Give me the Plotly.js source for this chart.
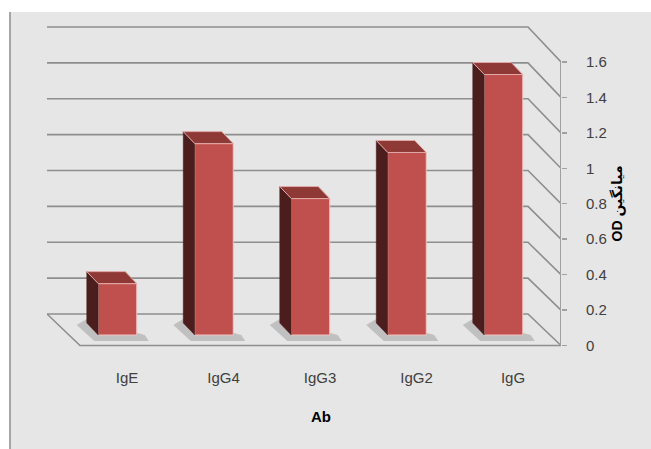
<!DOCTYPE html>
<html>
<head>
<meta charset="utf-8">
<script src="https://cdn.plot.ly/plotly-3.0.1.min.js"></script>
<style>html,body{margin:0;padding:0;background:#fff;}#chart{width:651px;height:449px;}</style>
</head>
<body>
<div id="chart"></div>
<script>
// ---- data ----
const categories = ['IgE', 'IgG4', 'IgG3', 'IgG2', 'IgG'];
const values = [0.29, 1.08, 0.77, 1.03, 1.47];
const yTickVals = [0, 0.2, 0.4, 0.6, 0.8, 1, 1.2, 1.4, 1.6];
const yTickText = ['0', '0.2', '0.4', '0.6', '0.8', '1', '1.2', '1.4', '1.6'];
const xTitle = 'Ab';
const yTitle = 'OD میانگین';

// ---- geometry (pixel -> data helpers) ----
const W = 651, H = 449;
const L = 47, R = 561, T = 24, B = 350;
const X0 = 127, XS = 96.5;      // category index 0 at px 127, 96.5 px per category
const Y0 = 345.5, YS = 177.2;   // value 0 at px 345.5, 177.2 px per unit
const px2x = p => (p - X0) / XS;
const py2y = p => (Y0 - p) / YS;
const xRange = [px2x(L), px2x(R)];
const yRange = [py2y(B), py2y(T)];
const backLeft = px2x(47), backRight = px2x(528), frontLeft = px2x(80), frontRight = px2x(R);
const backBase = py2y(314), backScale = 179.4 / YS;
const backY = v => backBase + v * backScale;

const barOffset = -9.5 / XS, barWidth = 38.5 / XS;
const barBase = py2y(335);
const dX = -11.5 / XS, dY = 12 / YS;

const gridColor = '#8e8e8e';
const shapes = [];
// background panel
shapes.push({type: 'rect', xref: 'paper', yref: 'paper', layer: 'below',
  x0: (10 - L) / (R - L), x1: (W + 5 - L) / (R - L), y0: (B - H - 5) / (B - T), y1: (B - 12) / (B - T),
  fillcolor: '#e6e6e6', line: {width: 0}});
shapes.push({type: 'line', xref: 'paper', yref: 'paper', layer: 'below',
  x0: (10 - L) / (R - L), x1: (10 - L) / (R - L), y0: (B - H - 5) / (B - T), y1: (B - 12) / (B - T),
  line: {color: '#a6a6a6', width: 2}});
// back wall gridlines + side diagonals
yTickVals.forEach(v => {
  shapes.push({type: 'path', xref: 'x', yref: 'y', layer: 'below',
    path: `M ${backLeft},${backY(v)} L ${backRight},${backY(v)} L ${frontRight},${v}`,
    line: {color: gridColor, width: 1.6}});
});
// floor
shapes.push({type: 'path', xref: 'x', yref: 'y', layer: 'below',
  path: `M ${backLeft},${backY(0)} L ${frontLeft},0 L ${frontRight},0`,
  line: {color: gridColor, width: 1.6}});
// axis line
shapes.push({type: 'line', xref: 'x', yref: 'y', layer: 'below',
  x0: frontRight, x1: frontRight, y0: 0, y1: yTickVals[yTickVals.length - 1],
  line: {color: '#a0a0a0', width: 2}});
// bar shadows
values.forEach((v, i) => {
  const xl = i + barOffset - barWidth / 2, xr = i + barOffset + barWidth / 2;
  shapes.push({type: 'path', xref: 'x', yref: 'y', layer: 'below',
    path: `M ${xl + dX - 10 / XS},${barBase + dY - 2 / YS} L ${xl + dX},${barBase + dY + 4 / YS} L ${xr + 8 / XS},${barBase} L ${xr + 12 / XS},${barBase - 6 / YS} L ${xl - 4 / XS},${barBase - 6 / YS} Z`,
    fillcolor: 'rgba(120,120,120,0.35)', line: {width: 0}});
});

const traces = [];
traces.push({
  type: 'bar', x: categories.map((c, i) => i + barOffset), y: values,
  base: values.map(() => barBase), width: barWidth,
  marker: {color: '#c0504d', line: {color: '#f0c2c0', width: 1}},
  hoverinfo: 'skip', showlegend: false
});
values.forEach((v, i) => {
  const xl = i + barOffset - barWidth / 2, xr = i + barOffset + barWidth / 2;
  const top = barBase + v;
  traces.push({type: 'scatter', mode: 'lines', fill: 'toself', fillcolor: '#4b1d1c',
    x: [xl, xl, xl + dX, xl + dX, xl], y: [barBase, top, top + dY, barBase + dY, barBase],
    line: {color: '#4b1d1c', width: 0.5}, hoverinfo: 'skip', showlegend: false});
  traces.push({type: 'scatter', mode: 'lines', fill: 'toself', fillcolor: '#8f3936',
    x: [xl, xr, xr + dX, xl + dX, xl], y: [top, top, top + dY, top + dY, top],
    line: {color: '#e0a9a7', width: 1}, hoverinfo: 'skip', showlegend: false});
});

const layout = {
  width: W, height: H,
  margin: {l: L, r: W - R, t: T, b: H - B, pad: 0},
  paper_bgcolor: '#ffffff', plot_bgcolor: 'rgba(0,0,0,0)',
  showlegend: false, barmode: 'overlay',
  font: {family: 'Liberation Sans, Arial, DejaVu Sans, sans-serif', color: '#404040'},
  xaxis: {range: xRange, tickvals: categories.map((c, i) => i), ticktext: categories,
    showgrid: false, zeroline: false, showline: false, ticks: '', ticklabelstandoff: 17,
    tickfont: {size: 15, color: '#404040'}, fixedrange: true},
  yaxis: {range: yRange, side: 'right', tickvals: yTickVals, ticktext: yTickText,
    showgrid: false, zeroline: false, showline: false, ticks: 'outside', ticklen: 5,
    tickwidth: 1.5, tickcolor: '#a0a0a0', ticklabelstandoff: 16,
    tickfont: {size: 15, color: '#404040'}, fixedrange: true},
  shapes: shapes,
  annotations: [
    {text: '<b>' + xTitle + '</b>', xref: 'paper', yref: 'paper', showarrow: false,
      x: (320.5 - L) / (R - L), y: (B - 416.5) / (B - T), xanchor: 'center', yanchor: 'middle',
      font: {size: 15, color: '#000000'}},
    {text: '<b>' + yTitle + '</b>', xref: 'paper', yref: 'paper', showarrow: false, textangle: -90,
      x: (617 - L) / (R - L), y: (B - 203.5) / (B - T), xanchor: 'center', yanchor: 'middle',
      font: {size: 14, color: '#000000', family: 'Liberation Sans, DejaVu Sans, sans-serif'}}
  ]
};

Plotly.newPlot('chart', traces, layout, {staticPlot: true, displayModeBar: false});
</script>
</body>
</html>
